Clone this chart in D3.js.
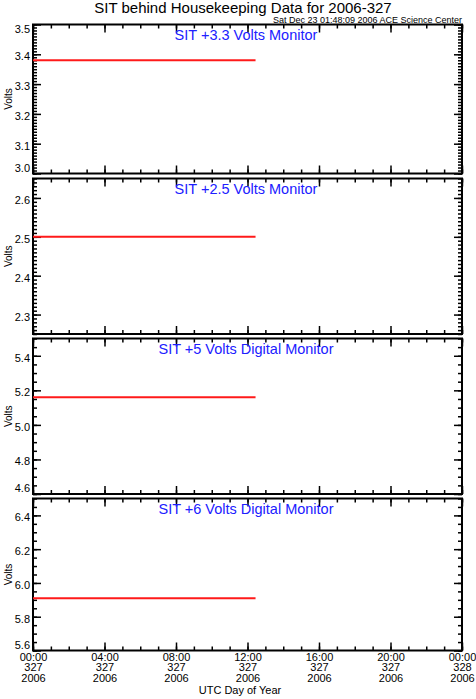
<!DOCTYPE html>
<html>
<head>
<meta charset="utf-8">
<script src="https://cdn.jsdelivr.net/npm/d3@7"></script>
<style>
  body { margin: 0; background: #fff; }
  svg { display: block; }
  text { font-family: "Liberation Sans", Arial, sans-serif; }
</style>
</head>
<body>
<svg width="476" height="699"></svg>
<script>
/* SIT behind housekeeping plot, 2006-327 */

// data
var panelTitles = ["SIT +3.3 Volts Monitor", "SIT +2.5 Volts Monitor",
                   "SIT +5 Volts Digital Monitor", "SIT +6 Volts Digital Monitor"];
var yDomains = [[3.0, 3.5], [2.25, 2.65], [4.6, 5.5], [5.6, 6.5]];
var yMajorStep = [0.1, 0.1, 0.2, 0.2];
var yMinorStep = [0.01, 0.01, 0.05, 0.05];
var sampleTimes = ["2006-11-23T00:00:00Z", "2006-11-23T12:27:00Z"];
var volts33 = [3.38, 3.38];
var volts25 = [2.50, 2.50];
var volts5d = [5.16, 5.16];
var volts6d = [5.91, 5.91];
var series = [volts33, volts25, volts5d, volts6d];
var xStart = "2006-11-23T00:00:00Z", xEnd = "2006-11-24T00:00:00Z";

var svg = d3.select("svg");

var left = 33, right = 462;
var tops = [24.5, 178.5, 338.5, 498.5],
    bottoms = [173.5, 334, 494, 650.5];

var x = d3.scaleUtc()
    .domain([new Date(xStart), new Date(xEnd)])
    .range([left, right]);
var majorX = x.ticks(d3.utcHour.every(4));
var minorX = x.ticks(d3.utcHour.every(1));

svg.append("text")
    .attr("x", 243).attr("y", 13)
    .attr("text-anchor", "middle")
    .style("font-size", "15px")
    .text("SIT behind Housekeeping Data for 2006-327");

svg.append("text")
    .attr("x", 462).attr("y", 23)
    .attr("text-anchor", "end")
    .style("font-size", "9px")
    .text("Sat Dec 23 01:48:09 2006 ACE Science Center");

// builds tick values on a step without float drift
function stepTicks(domain, step) {
    var out = [], n0 = Math.ceil(domain[0] / step - 1e-6), n1 = Math.floor(domain[1] / step + 1e-6);
    for (var i = n0; i <= n1; i++) out.push(+(i * step).toFixed(3));
    return out;
}

function styleAxis(g) {
    g.select(".domain").remove();
    g.selectAll(".tick line").attr("stroke", "#000").attr("stroke-width", 1.5);
    g.selectAll("text").style("font-size", "11px").attr("fill", "#000")
        .style("font-family", "'Liberation Sans', Arial, sans-serif");
}

panelTitles.forEach(function(title, i) {
    var y = d3.scaleLinear().domain(yDomains[i]).range([bottoms[i], tops[i]]);
    var g = svg.append("g");
    var majorY = stepTicks(yDomains[i], yMajorStep[i]);
    var minorY = stepTicks(yDomains[i], yMinorStep[i]);

    // y ticks, pointing inward on both sides
    g.append("g").attr("transform", "translate(" + left + ",0)")
        .call(d3.axisLeft(y).tickValues(minorY).tickSize(-4).tickFormat(""))
        .call(styleAxis);
    g.append("g").attr("transform", "translate(" + right + ",0)")
        .call(d3.axisRight(y).tickValues(minorY).tickSize(-4).tickFormat(""))
        .call(styleAxis);
    g.append("g").attr("transform", "translate(" + right + ",0)")
        .call(d3.axisRight(y).tickValues(majorY).tickSize(-8).tickFormat(""))
        .call(styleAxis);
    var ya = g.append("g").attr("transform", "translate(" + left + ",0)")
        .call(d3.axisLeft(y).tickValues(majorY).tickSize(-8).tickPadding(3).tickFormat(d3.format(".1f")))
        .call(styleAxis);
    ya.selectAll(".tick text").attr("dy", function(d) {
        var py = y(d);
        if (py < tops[i] + 5) return "0.75em";
        if (py > bottoms[i] - 3) return "-0.2em";
        return "0.5em";
    });

    // x ticks top and bottom
    g.append("g").attr("transform", "translate(0," + tops[i] + ")")
        .call(d3.axisTop(x).tickValues(minorX).tickSize(-4).tickFormat(""))
        .call(styleAxis);
    g.append("g").attr("transform", "translate(0," + tops[i] + ")")
        .call(d3.axisTop(x).tickValues(majorX).tickSize(-8).tickFormat(""))
        .call(styleAxis);
    g.append("g").attr("transform", "translate(0," + bottoms[i] + ")")
        .call(d3.axisBottom(x).tickValues(minorX).tickSize(-4).tickFormat(""))
        .call(styleAxis);
    var xa = g.append("g").attr("transform", "translate(0," + bottoms[i] + ")")
        .call(d3.axisBottom(x).tickValues(majorX).tickSize(-8).tickFormat(""))
        .call(styleAxis);

    if (i === panelTitles.length - 1) {
        var fmts = [d3.utcFormat("%H:%M"), d3.utcFormat("%j"), d3.utcFormat("%Y")];
        xa.selectAll(".tick").each(function(d) {
            var t = d3.select(this);
            fmts.forEach(function(f, k) {
                t.append("text")
                    .attr("x", 0).attr("y", 10 + k * 10.5)
                    .attr("text-anchor", "middle")
                    .attr("fill", "#000")
                    .style("font-size", "11px")
                    .text(f(d));
            });
        });
    }

    // frame
    g.append("rect")
        .attr("x", left).attr("y", tops[i])
        .attr("width", right - left).attr("height", bottoms[i] - tops[i])
        .attr("fill", "none").attr("stroke", "#000").attr("stroke-width", 2);

    var line = d3.line()
        .x(function(d, k) { return x(new Date(sampleTimes[k])); })
        .y(function(d) { return y(d); });
    g.append("path")
        .datum(series[i])
        .attr("d", line)
        .attr("fill", "none")
        .attr("stroke", "#ff1a1a")
        .attr("stroke-width", 2);

    g.append("text")
        .attr("x", 246).attr("y", tops[i] + 15)
        .attr("text-anchor", "middle")
        .attr("fill", "#2020ff")
        .style("font-size", "14.5px")
        .text(title);

    var mid = (tops[i] + bottoms[i]) / 2;
    g.append("text")
        .attr("transform", "translate(12," + mid + ") rotate(-90)")
        .attr("text-anchor", "middle")
        .style("font-size", "10px")
        .text("Volts");
});

svg.append("text")
    .attr("x", 240).attr("y", 694)
    .attr("text-anchor", "middle")
    .style("font-size", "11px")
    .text("UTC Day of Year");
</script>
</body>
</html>
